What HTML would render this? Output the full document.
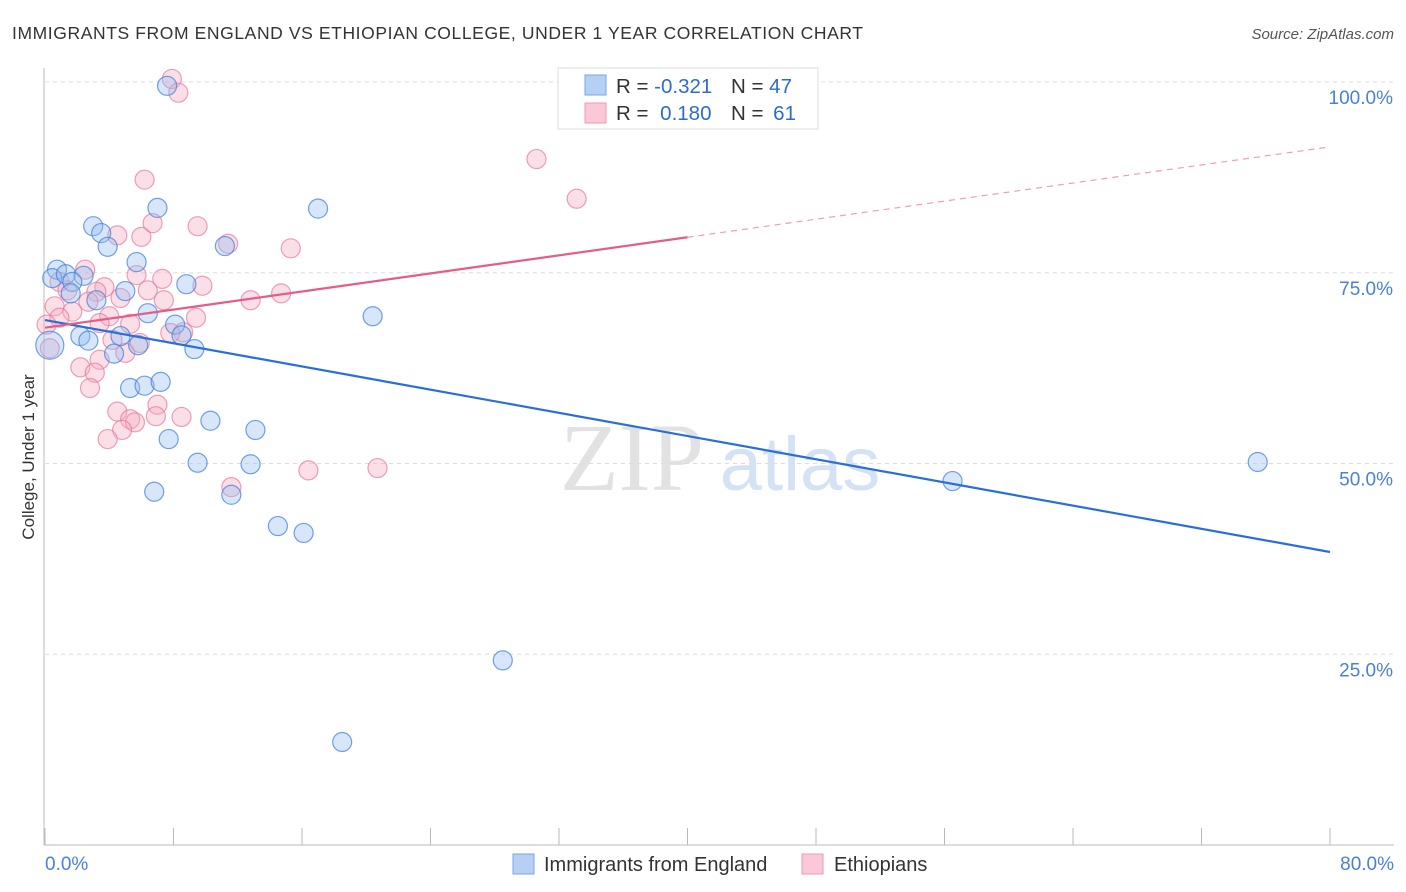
<!DOCTYPE html>
<html><head><meta charset="utf-8"><style>
body{margin:0;background:#fff;font-family:"Liberation Sans",sans-serif}
svg{display:block}
</style></head><body>
<svg id="chart" width="1406" height="892" xmlns="http://www.w3.org/2000/svg">
<text x="12" y="39" font-size="17.5" fill="#333" textLength="851">IMMIGRANTS FROM ENGLAND VS ETHIOPIAN COLLEGE, UNDER 1 YEAR CORRELATION CHART</text>
<text x="1394" y="39" font-size="15" fill="#555" font-style="italic" text-anchor="end">Source: ZipAtlas.com</text>
<g>
<text x="632" y="490" font-size="96" fill="#e2e2e2" font-family="Liberation Serif,serif" text-anchor="middle">ZIP</text>
<text x="800" y="490" font-size="76" fill="#d3e2f5" text-anchor="middle">atlas</text>
</g>
<g id="grid"></g>
<g id="axes"></g>
<g id="pts"></g>
<g id="trend"></g>
<text transform="translate(34,457) rotate(-90)" font-size="17" fill="#333" text-anchor="middle">College, Under 1 year</text>
<g>
<rect x="558" y="68" width="260" height="61" fill="#fff" stroke="#ddd"/>
<rect x="585" y="75" width="21" height="20" fill="#b5d0f3" stroke="#7aa6e6"/>
<rect x="585" y="103" width="21" height="20" fill="#fac8d6" stroke="#ee9ab3"/>
<text x="616" y="93" font-size="20.5" fill="#333">R = <tspan fill="#2d6ccf">-0.321</tspan></text>
<text x="731" y="93" font-size="20.5" fill="#333">N = <tspan fill="#2d6ccf">47</tspan></text>
<text x="616" y="120" font-size="20.5" fill="#333">R = <tspan fill="#2d6ccf" dx="6">0.180</tspan></text>
<text x="731" y="120" font-size="20.5" fill="#333">N = <tspan fill="#2d6ccf" dx="4">61</tspan></text>
</g>
<g>
<rect x="513" y="854" width="21" height="20" fill="#b5d0f3" stroke="#7aa6e6"/>
<text x="544" y="871" font-size="20" fill="#333">Immigrants from England</text>
<rect x="802" y="854" width="21" height="20" fill="#fac8d6" stroke="#ee9ab3"/>
<text x="834" y="871" font-size="20" fill="#333">Ethiopians</text>
</g>
</svg>
<script>
const blueX=[7.6,33.0,7.0,17.0,3.0,3.5,3.9,11.2,5.7,0.75,0.45,1.3,2.4,1.7,8.8,5.0,1.6,3.2,6.4,20.4,8.1,8.5,2.2,2.7,4.7,5.8,4.3,9.3,5.3,6.2,7.2,10.3,13.1,7.7,9.5,12.8,6.8,11.6,14.5,16.1,28.5,18.5,56.5,75.5,0.3];
const blueY=[99.5,100.4,83.5,83.4,81.1,80.2,78.4,78.5,76.4,75.4,74.3,74.8,74.6,73.8,73.5,72.6,72.3,71.4,69.7,69.3,68.2,66.8,66.7,66.1,66.7,65.5,64.4,65.0,59.9,60.2,60.7,55.6,54.4,53.2,50.1,49.9,46.3,45.9,41.8,40.9,24.2,13.5,47.7,50.2,65.5];
const pinkX=[7.9,8.3,30.6,33.1,6.2,6.7,9.5,4.5,6.0,11.4,15.3,2.5,5.7,7.3,9.8,6.4,3.7,0.9,1.4,3.2,14.7,12.8,7.4,0.6,4.7,2.7,1.7,0.9,4.0,9.4,5.3,0.1,3.4,8.6,7.8,4.2,5.0,0.3,5.9,3.4,2.2,3.1,2.8,4.5,7.0,5.3,6.9,8.5,5.6,4.8,3.9,16.4,20.7,11.6];
const pinkY=[100.4,98.6,89.9,84.7,87.2,81.5,81.1,79.9,79.7,78.8,78.2,75.4,74.7,74.2,73.3,72.7,73.1,73.8,72.7,72.5,72.3,71.4,71.4,70.6,71.7,71.2,69.9,69.1,69.3,69.1,68.3,68.2,68.4,67.2,67.1,66.2,64.5,65.1,65.8,63.6,62.6,61.9,59.9,56.8,57.7,55.8,56.2,56.1,55.4,54.4,53.2,49.1,49.4,46.9];
const blueTrend=[68.8,38.4];
const pinkTrend=[67.8,91.5];
const yTicks=[100,75,50,25];
const yTickLabels=["100.0%","75.0%","50.0%","25.0%"];
const xTicks=[0,8,16,24,32,40,48,56,64,72,80];
const NS="http://www.w3.org/2000/svg";
const sx=v=>45+v/80*1285;
const sy=v=>845-v/100*763;
function mk(tag,attrs,parent){const e=document.createElementNS(NS,tag);for(const k in attrs)e.setAttribute(k,attrs[k]);document.getElementById(parent).appendChild(e);return e;}
yTicks.forEach((t,i)=>{
 const l=mk('line',{x1:45,x2:1394,y1:sy(t),y2:sy(t),stroke:'#ddd','stroke-dasharray':'4,4'},'grid');
 
 
 const tx=mk('text',{x:1393,y:sy(t)+22,'font-size':19,fill:'#4a80d8','text-anchor':'end'},'grid');
 tx.textContent=yTickLabels[i];
 
 
});
const ax=mk('line',{x1:44,x2:44,y1:68,y2:845,stroke:'#bbb'},'axes');


const bx=mk('line',{x1:44,x2:1394,y1:845,y2:845,stroke:'#bbb'},'axes');


xTicks.forEach(t=>{
 const l=mk('line',{x1:sx(t),x2:sx(t),y1:828,y2:845,stroke:'#bbb'},'axes');
 
 
});
const xl0=mk('text',{x:45,y:870,'font-size':19,fill:'#4a80d8'},'axes');xl0.textContent='0.0%';


const xl1=mk('text',{x:1394,y:870,'font-size':19,fill:'#4a80d8','text-anchor':'end'},'axes');xl1.textContent='80.0%';


pinkX.forEach((x,i)=>{
 const c=mk('circle',{cx:sx(x),cy:sy(pinkY[i]),r:9.5,fill:'rgba(245,170,192,0.38)',stroke:'rgba(232,120,155,0.7)','stroke-width':1.2},'pts');
 
 
});
blueX.forEach((x,i)=>{
 const c=mk('circle',{cx:sx(x),cy:sy(blueY[i]),r:i==blueX.length-1?14:9.5,fill:'rgba(150,190,240,0.38)',stroke:'rgba(70,130,220,0.75)','stroke-width':1.2},'pts');
 
 
});
const bt=mk('line',{x1:sx(0),y1:sy(blueTrend[0]),x2:sx(80),y2:sy(blueTrend[1]),stroke:'#2a6fd6','stroke-width':2.2},'trend');


const pm=pinkTrend[0]+(pinkTrend[1]-pinkTrend[0])*0.5;
const pt=mk('line',{x1:sx(0),y1:sy(pinkTrend[0]),x2:sx(40),y2:sy(pm),stroke:'#e45c8a','stroke-width':2.2},'trend');


const pd=mk('line',{x1:sx(40),y1:sy(pm),x2:sx(80),y2:sy(pinkTrend[1]),stroke:'#e8a0b8','stroke-width':1.2,'stroke-dasharray':'6,5'},'trend');


</script>
</body></html>
